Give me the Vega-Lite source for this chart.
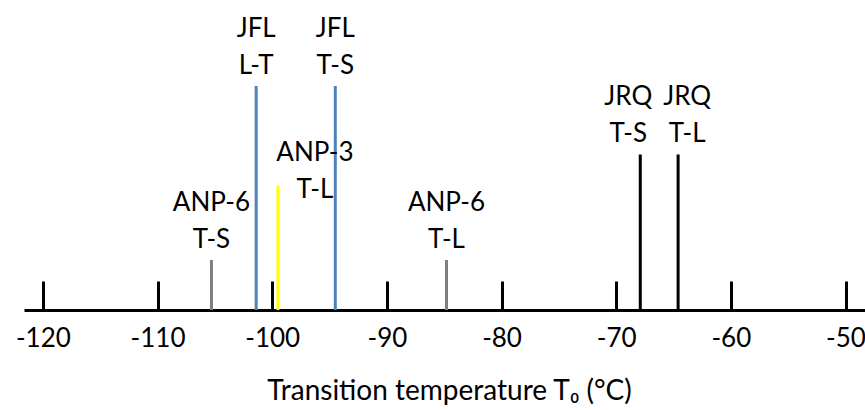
{
  "$schema": "https://vega.github.io/schema/vega-lite/v6.json",
  "width": 841,
  "height": 310,
  "autosize": {"type": "none"},
  "padding": {"left": 24, "top": 0, "right": 0, "bottom": 100},
  "background": "white",
  "config": {"view": {"stroke": null}, "font": "Lato"},
  "data": {
    "values": [
      {"sample": "ANP-6", "transition": "T-S", "label": "ANP-6\nT-S", "T": -105.3, "h": 50},
      {"sample": "JFL", "transition": "L-T", "label": "JFL\nL-T", "T": -101.4, "h": 224},
      {"sample": "ANP-3", "transition": "T-L", "label": "ANP-3\nT-L", "T": -99.5, "h": 124.5},
      {"sample": "JFL", "transition": "T-S", "label": "JFL\nT-S", "T": -94.5, "h": 224},
      {"sample": "ANP-6", "transition": "T-L", "label": "ANP-6\nT-L", "T": -84.8, "h": 50},
      {"sample": "JRQ", "transition": "T-S", "label": "JRQ\nT-S", "T": -67.9, "h": 155.5},
      {"sample": "JRQ", "transition": "T-L", "label": "JRQ\nT-L", "T": -64.6, "h": 155.5}
    ]
  },
  "encoding": {
    "x": {
      "field": "T",
      "type": "quantitative",
      "scale": {"domain": [-121.65, -48.3], "nice": false, "zero": false},
      "axis": {
        "values": [-120, -110, -100, -90, -80, -70, -60, -50],
        "labelExpr": "datum.value + ''",
        "title": "Transition temperature T₀ (°C)",
        "grid": false,
        "domainColor": "#000000",
        "domainWidth": 3,
        "tickColor": "#000000",
        "tickWidth": 3,
        "tickSize": -29,
        "labelPadding": 65.5,
        "labelBaseline": "alphabetic",
        "labelFontSize": 26,
        "labelFont": "Lato",
        "labelColor": "#000000",
        "labelFlush": false,
        "labelOverlap": false,
        "titleFont": "Lato",
        "titleFontSize": 28,
        "titleFontWeight": "normal",
        "titleColor": "#000000",
        "titleX": 425,
        "titleY": 89,
        "titleBaseline": "alphabetic",
        "titleAlign": "center"
      }
    },
    "y": {
      "field": "h",
      "type": "quantitative",
      "scale": {"domain": [0, 310], "nice": false},
      "axis": null
    }
  },
  "layer": [
    {
      "mark": {"type": "rule", "strokeWidth": 3},
      "encoding": {
        "y2": {"datum": 0},
        "color": {
          "field": "sample",
          "type": "nominal",
          "scale": {"domain": ["ANP-6", "JFL", "ANP-3", "JRQ"], "range": ["#7F7F7F", "#4F81BD", "#FFFF00", "#000000"]},
          "legend": null
        }
      }
    },
    {
      "transform": [{"filter": "datum.sample === 'ANP-6' || datum.sample === 'JFL'"}],
      "mark": {"type": "text", "lineBreak": "\n", "lineHeight": 37, "fontSize": 26, "font": "Lato", "fill": "#000000", "align": "center", "baseline": "alphabetic", "dy": -49},
      "encoding": {"text": {"field": "label"}}
    },
    {
      "transform": [{"filter": "datum.sample === 'JRQ' && datum.transition === 'T-S'"}],
      "mark": {"type": "text", "lineBreak": "\n", "lineHeight": 37, "fontSize": 26, "font": "Lato", "fill": "#000000", "align": "center", "baseline": "alphabetic", "dy": -50, "dx": -12},
      "encoding": {"text": {"field": "label"}}
    },
    {
      "transform": [{"filter": "datum.sample === 'JRQ' && datum.transition === 'T-L'"}],
      "mark": {"type": "text", "lineBreak": "\n", "lineHeight": 37, "fontSize": 26, "font": "Lato", "fill": "#000000", "align": "center", "baseline": "alphabetic", "dy": -50, "dx": 9},
      "encoding": {"text": {"field": "label"}}
    },
    {
      "transform": [{"filter": "datum.sample === 'ANP-3'"}],
      "mark": {"type": "text", "lineBreak": "\n", "lineHeight": 37, "fontSize": 26, "font": "Lato", "fill": "#000000", "align": "center", "baseline": "alphabetic", "dy": -25, "dx": 37},
      "encoding": {"text": {"field": "label"}}
    }
  ]
}
